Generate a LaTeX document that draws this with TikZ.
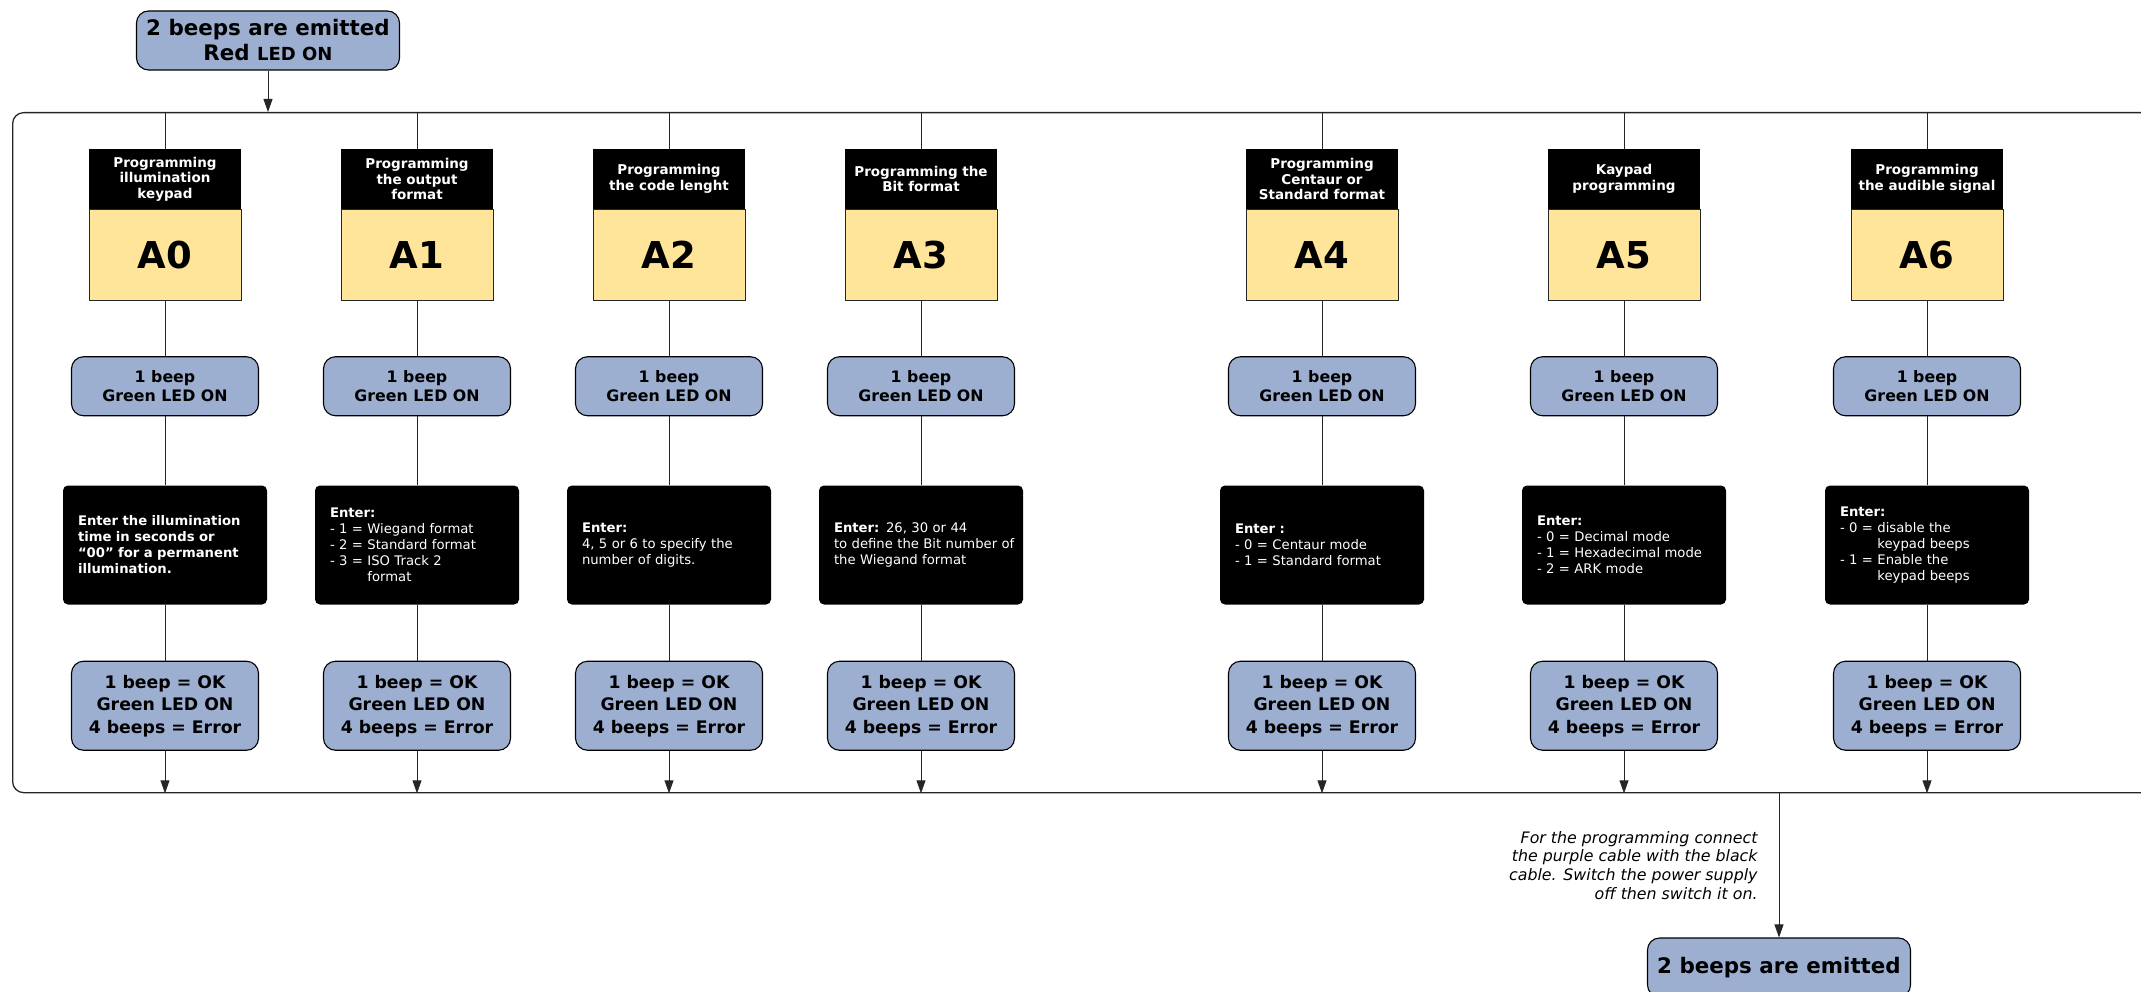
\documentclass[tikz,border=0pt]{standalone}
\usepackage{fontspec}
\setmainfont{DejaVu Sans}
\usetikzlibrary{arrows.meta,positioning}
\definecolor{BeepBlue}{HTML}{9DAFD0}
\definecolor{CodeYellow}{HTML}{FFE599}
\definecolor{LineGray}{HTML}{262626}

\begin{document}
\begin{tikzpicture}[
  x=1pt, y=-1pt,
  >={Triangle[length=13pt,width=9pt]},
  every node/.style={inner sep=0pt},
  beepbox/.style={
    rounded corners=12pt,
    draw=black,
    line width=1.1pt,
    fill=BeepBlue,
    align=center,
    minimum width=187pt
  },
  ledbox/.style={beepbox, minimum height=59pt,
    font=\bfseries\fontsize{15.8}{18.4}\selectfont},
  okbox/.style={beepbox, minimum height=89pt,
    font=\bfseries\fontsize{17.3}{22.5}\selectfont},
  titlebox/.style={
    fill=black,
    text=white,
    align=center,
    minimum width=152pt,
    minimum height=60pt,
    font=\bfseries\fontsize{13.5}{15.5}\selectfont
  },
  codebox/.style={
    draw=LineGray,
    line width=1pt,
    fill=CodeYellow,
    minimum width=152pt,
    minimum height=91pt,
    font=\bfseries\fontsize{37}{40}\selectfont
  },
  enterbox/.style={
    fill=black,
    rounded corners=5pt,
    text=white,
    align=left,
    text width=174pt,
    inner xsep=15pt,
    minimum height=119pt,
    font=\fontsize{13.2}{16}\selectfont
  },
  link/.style={draw=LineGray, line width=1pt},
  note/.style={align=right, font=\itshape\fontsize{15.8}{18.7}\selectfont}
]
\useasboundingbox (0,0) rectangle (2141,992);

% Frame
\node[draw=LineGray, line width=1.3pt, rounded corners=11pt, anchor=north west,
  minimum width=2200pt, minimum height=680pt] (frame) at (12,112) {};

% Start
\node[beepbox, minimum width=263pt, minimum height=59pt,
  font=\bfseries\fontsize{21.4}{25}\selectfont] (start) at (268,40.5)
  {2 beeps are emitted\\Red {\fontsize{18}{25}\selectfont LED ON}};

% Column A0
\node[titlebox] (t0) at (165,179) {Programming\\illumination\\keypad};
\node[codebox, below=0pt of t0] (c0) {A0};
\node[ledbox, below=55pt of c0] (g0) {1 beep\\Green LED ON};
\node[enterbox, below=69pt of g0] (e0) {\textbf{Enter the illumination\\
  time in seconds or\\“00” for a permanent\\illumination.}};
\node[okbox, below=56pt of e0] (r0) {1 beep = OK\\Green LED ON\\4 beeps = Error};

% Column A1
\node[titlebox] (t1) at (417,179) {Programming\\the output\\format};
\node[codebox, below=0pt of t1] (c1) {A1};
\node[ledbox, below=55pt of c1] (g1) {1 beep\\Green LED ON};
\node[enterbox, below=69pt of g1] (e1) {\textbf{Enter:}\\- 1 = Wiegand format\\
  - 2 = Standard format\\- 3 = ISO Track 2\\\phantom{- 3 = }format};
\node[okbox, below=56pt of e1] (r1) {1 beep = OK\\Green LED ON\\4 beeps = Error};

% Column A2
\node[titlebox] (t2) at (669,179) {Programming\\the code lenght};
\node[codebox, below=0pt of t2] (c2) {A2};
\node[ledbox, below=55pt of c2] (g2) {1 beep\\Green LED ON};
\node[enterbox, below=69pt of g2] (e2) {\textbf{Enter:}\\4, 5 or 6 to specify the\\
  number of digits.};
\node[okbox, below=56pt of e2] (r2) {1 beep = OK\\Green LED ON\\4 beeps = Error};

% Column A3
\node[titlebox] (t3) at (921,179) {Programming the\\Bit format};
\node[codebox, below=0pt of t3] (c3) {A3};
\node[ledbox, below=55pt of c3] (g3) {1 beep\\Green LED ON};
\node[enterbox, below=69pt of g3] (e3) {\textbf{Enter:} 26, 30 or 44\\
  \mbox{to define the Bit number of}\\the Wiegand format};
\node[okbox, below=56pt of e3] (r3) {1 beep = OK\\Green LED ON\\4 beeps = Error};

% Column A4
\node[titlebox] (t4) at (1322,179) {Programming\\Centaur or\\Standard format};
\node[codebox, below=0pt of t4] (c4) {A4};
\node[ledbox, below=55pt of c4] (g4) {1 beep\\Green LED ON};
\node[enterbox, below=69pt of g4] (e4) {\textbf{Enter :}\\- 0 = Centaur mode\\
  - 1 = Standard format};
\node[okbox, below=56pt of e4] (r4) {1 beep = OK\\Green LED ON\\4 beeps = Error};

% Column A5
\node[titlebox] (t5) at (1624,179) {Kaypad\\programming};
\node[codebox, below=0pt of t5] (c5) {A5};
\node[ledbox, below=55pt of c5] (g5) {1 beep\\Green LED ON};
\node[enterbox, below=69pt of g5] (e5) {\textbf{Enter:}\\- 0 = Decimal mode\\
  - 1 = Hexadecimal mode\\- 2 = ARK mode};
\node[okbox, below=56pt of e5] (r5) {1 beep = OK\\Green LED ON\\4 beeps = Error};

% Column A6
\node[titlebox] (t6) at (1927,179) {Programming\\the audible signal};
\node[codebox, below=0pt of t6] (c6) {A6};
\node[ledbox, below=55pt of c6] (g6) {1 beep\\Green LED ON};
\node[enterbox, below=69pt of g6] (e6) {\textbf{Enter:}\\- 0 = disable the\\
  \phantom{- 0 = }keypad beeps\\- 1 = Enable the\\\phantom{- 1 = }keypad beeps};
\node[okbox, below=56pt of e6] (r6) {1 beep = OK\\Green LED ON\\4 beeps = Error};

% End
\node[beepbox, minimum width=263pt, minimum height=59pt,
  font=\bfseries\fontsize{21.4}{25}\selectfont] (fin) at (1779,967.5)
  {2 beeps are emitted};

% Arrows
\draw[link, ->] (start) -- (start.south |- frame.north);
\foreach \i in {0,...,6}{
  \draw[link] (frame.north -| t\i.north) -- (t\i);
  \draw[link] (c\i) -- (g\i);
  \draw[link] (g\i) -- (e\i);
  \draw[link] (e\i) -- (r\i);
  \draw[link, ->] (r\i) -- (r\i.south |- frame.south);
}
\draw[link, ->] (frame.south -| fin.north) -- node[note, left=21pt]
  {For the programming connect\\the purple cable with the black\\
   cable. Switch the power supply\\off then switch it on.} (fin);
\end{tikzpicture}
\end{document}
